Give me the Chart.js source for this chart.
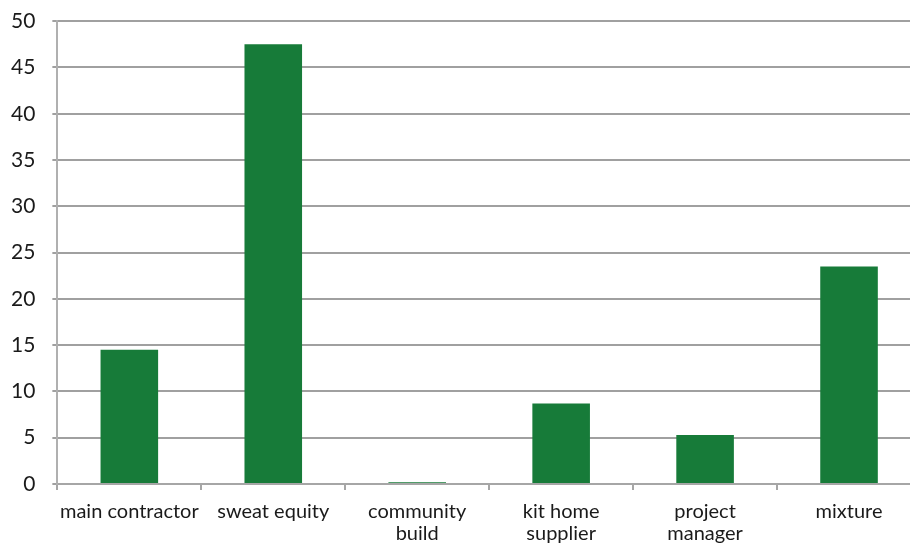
<!DOCTYPE html>
<html>
<head>
<meta charset="utf-8">
<script src="https://cdn.jsdelivr.net/npm/chart.js@4/dist/chart.umd.min.js"></script>
<style>
  html, body { margin: 0; padding: 0; background: #ffffff; overflow: hidden; }
  #wrap { position: relative; width: 921px; height: 545px; }
</style>
</head>
<body>
<div id="wrap"><canvas id="chart"></canvas></div>
<script>
// Build method categories and their share (%)
const categories = [
  'main contractor',
  'sweat equity',
  ['community', 'build'],
  ['kit home', 'supplier'],
  ['project', 'manager'],
  'mixture'
];
const shares = [14.5, 47.5, 0.2, 8.7, 5.3, 23.5];
const yTicks = [0, 5, 10, 15, 20, 25, 30, 35, 40, 45, 50];

const fontFamily = 'Lato, "Liberation Sans", sans-serif';

new Chart(document.getElementById('chart'), {
  type: 'bar',
  data: {
    labels: categories,
    datasets: [{
      data: shares,
      backgroundColor: '#177b39',
      borderWidth: 0,
      barPercentage: 0.4,
      categoryPercentage: 1.0
    }]
  },
  options: {
    responsive: true,
    maintainAspectRatio: false,
    animation: false,
    layout: { padding: { top: 0, right: 0, bottom: -11, left: -6 } },
    plugins: {
      legend: { display: false },
      tooltip: { enabled: false }
    },
    scales: {
      x: {
        offset: true,
        grid: {
          offset: true,
          drawOnChartArea: false,
          drawTicks: true,
          tickLength: 6,
          color: '#a6a6a6',
          lineWidth: 2
        },
        border: { display: true, color: '#a6a6a6', width: 2 },
        ticks: {
          color: '#1a1a1a',
          padding: 11,
          maxRotation: 0,
          autoSkip: false,
          font: { family: fontFamily, size: 20, lineHeight: 1.1 }
        }
      },
      y: {
        min: 0,
        max: 50,
        afterBuildTicks: (axis) => { axis.ticks = yTicks.map(v => ({ value: v })); },
        grid: {
          color: '#a0a0a0',
          lineWidth: 2,
          tickLength: 5
        },
        border: { display: true, color: '#b0b0b0', width: 2 },
        ticks: {
          color: '#1a1a1a',
          padding: 17,
          font: { family: fontFamily, size: 21, lineHeight: 0.4 }
        }
      }
    }
  }
});
</script>
</body>
</html>
